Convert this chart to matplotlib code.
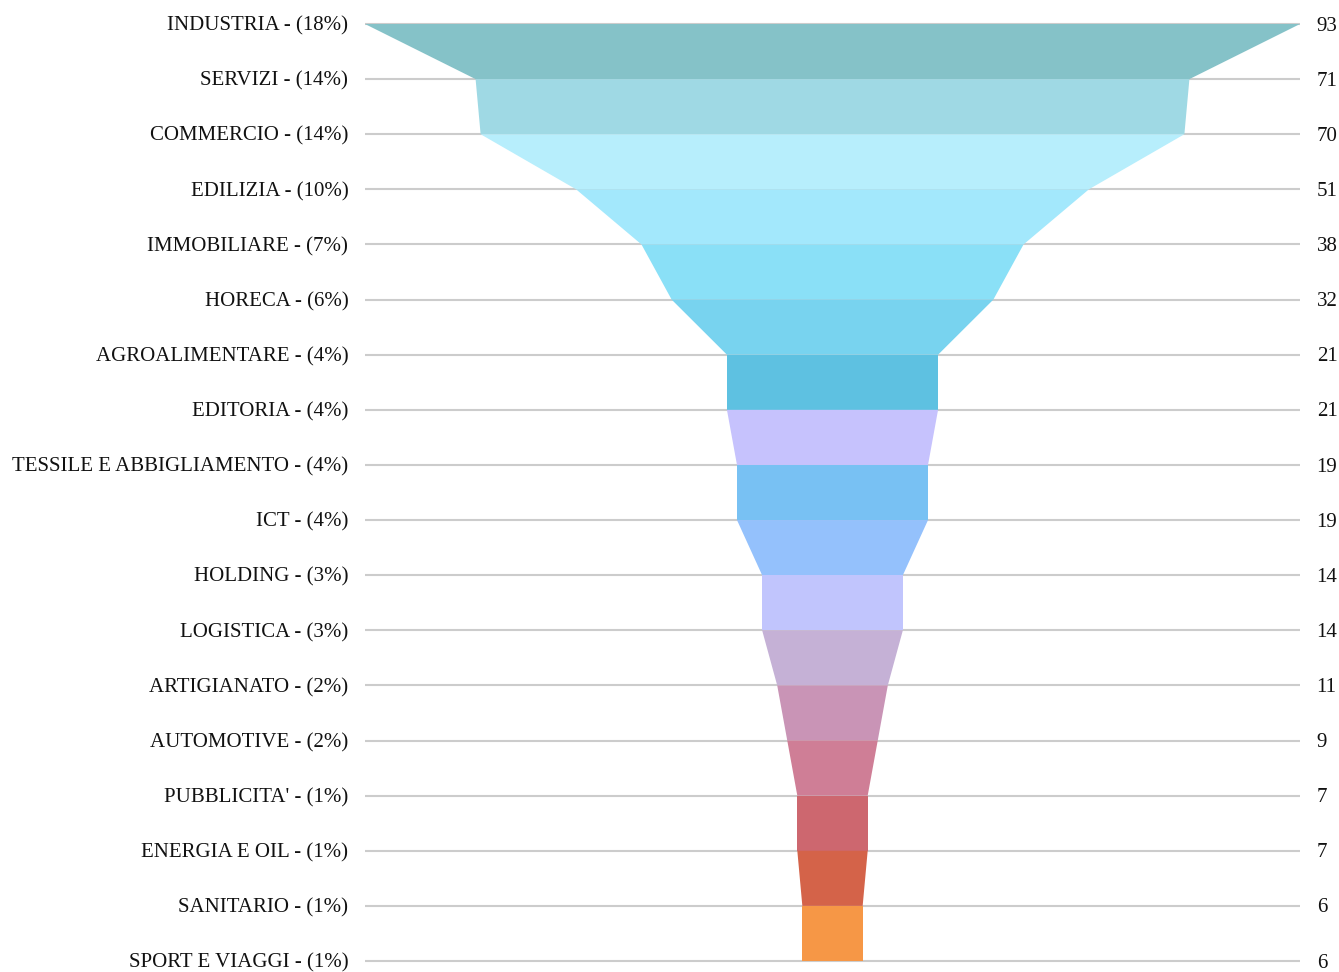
import matplotlib
matplotlib.use("Agg")
import matplotlib.pyplot as plt
from matplotlib.patches import Polygon

categories = ["INDUSTRIA", "SERVIZI", "COMMERCIO", "EDILIZIA", "IMMOBILIARE", "HORECA",
              "AGROALIMENTARE", "EDITORIA", "TESSILE E ABBIGLIAMENTO", "ICT", "HOLDING",
              "LOGISTICA", "ARTIGIANATO", "AUTOMOTIVE", "PUBBLICITA'", "ENERGIA E OIL",
              "SANITARIO", "SPORT E VIAGGI"]
values = [93, 71, 70, 51, 38, 32, 21, 21, 19, 19, 14, 14, 11, 9, 7, 7, 6, 6]
percents = ["18%", "14%", "14%", "10%", "7%", "6%", "4%", "4%", "4%", "4%", "3%",
            "3%", "2%", "2%", "1%", "1%", "1%", "1%"]
band_colors = ["#85c2c8", "#9fd9e4", "#b7eefc", "#a3e8fc", "#8ae0f7", "#78d3ef",
               "#5ec1e1", "#c6c2fd", "#78c1f3", "#94c1fc", "#c1c5fd", "#c5b1d6",
               "#c994b6", "#cf7e96", "#cd676f", "#d46349", "#f69746"]

W, H = 1339, 972
fig = plt.figure(figsize=(W / 100, H / 100), dpi=100)
left, right, top, bottom = 365, 1300, 24, 961
ax = fig.add_axes([left / W, (H - bottom) / H, (right - left) / W, (bottom - top) / H])
vmax = max(values)
ax.set_xlim(-vmax / 2, vmax / 2)
n = len(values)
ax.set_ylim(n - 1, 0)
ax.axis("off")

font = "Liberation Serif"
for i, v in enumerate(values):
    ax.plot([-vmax / 2, vmax / 2], [i, i], color="#cccccc", lw=1.5, zorder=1,
            solid_capstyle="butt", clip_on=False)
    ax.annotate(f"{categories[i]} - ({percents[i]})", xy=(0, i), xycoords=("axes fraction", "data"),
                xytext=(-12, -1.5), textcoords="offset points", ha="right", va="center",
                fontsize=15, family=font, color="#111111")
    ax.annotate(f"{v}", xy=(1, i), xycoords=("axes fraction", "data"),
                xytext=(12, -1.5), textcoords="offset points", ha="left", va="center",
                fontsize=15, family=font, color="#111111")

for i in range(n - 1):
    a, b = values[i] / 2, values[i + 1] / 2
    poly = Polygon([(-a, i), (a, i), (b, i + 1), (-b, i + 1)], closed=True,
                   facecolor=band_colors[i], edgecolor="none", zorder=2, clip_on=False)
    ax.add_patch(poly)

fig.savefig("out.png", dpi=100, facecolor="white")
